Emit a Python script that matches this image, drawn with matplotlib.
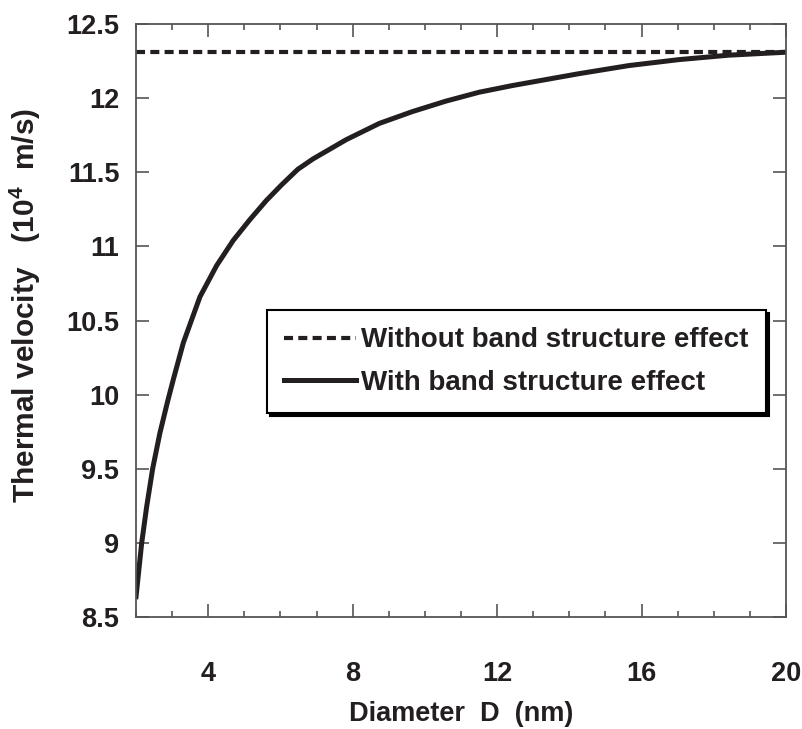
import numpy as np
import matplotlib.pyplot as plt

plt.rcParams['font.family'] = ['Liberation Sans', 'DejaVu Sans']
plt.rcParams['font.weight'] = 'bold'
plt.rcParams['axes.labelweight'] = 'bold'
plt.rcParams['mathtext.default'] = 'regular'
plt.rcParams['lines.scale_dashes'] = False

# values
diameter = [2.0, 2.157, 2.295, 2.46, 2.66, 2.87, 3.03, 3.31, 3.77, 4.23, 4.69, 5.15,
            5.61, 6.03, 6.48, 6.90, 7.82, 8.74, 9.66, 10.58, 11.50, 12.42, 13.11,
            14.26, 15.65, 17.03, 18.41, 20.0]
v_band = [8.637, 9.0, 9.245, 9.50, 9.74, 9.95, 10.10, 10.35, 10.66, 10.87, 11.04, 11.18,
          11.31, 11.415, 11.52, 11.59, 11.72, 11.83, 11.91, 11.98, 12.04, 12.085, 12.115,
          12.165, 12.22, 12.26, 12.29, 12.31]
v_noband = 12.31

xticks = [4, 8, 12, 16, 20]
yticks = [8.5, 9, 9.5, 10, 10.5, 11, 11.5, 12, 12.5]
ytick_labels = ['8.5', '9', '9.5', '10', '10.5', '11', '11.5', '12', '12.5']

fig = plt.figure(figsize=(8.03, 7.29), dpi=100)
ax = fig.add_axes([0.1694, 0.1536, 0.8094, 0.8134])

ax.plot([2, 20], [v_noband, v_noband], color='#231f20', lw=3.0, dashes=(6.5, 3.8),
        label='Without band structure effect', solid_capstyle='butt')
ax.plot(diameter, v_band, color='#231f20', lw=3.6, label='With band structure effect',
        solid_joinstyle='round')

ax.set_xlim(2, 20)
ax.set_ylim(8.5, 12.5)
ax.set_xticks(xticks)
ax.set_xticks(np.arange(2, 21, 1), minor=True)
ax.set_yticks(yticks)
ax.set_yticklabels(ytick_labels)

ax.tick_params(which='both', direction='in', top=True, right=True, color='#555555',
               width=1.2, labelsize=19.5, labelcolor='#231f20')
ax.tick_params(which='major', length=9.5)
ax.tick_params(which='minor', length=4.5)
ax.tick_params(axis='x', pad=32)
ax.tick_params(axis='y', pad=12)
for s in ax.spines.values():
    s.set_color('#555555')
    s.set_linewidth(1.3)

ax.set_xlabel('Diameter  D  (nm)', fontsize=19.5, color='#231f20', labelpad=10)
ax.set_ylabel('Thermal velocity   (10$^{4}$  m/s)', fontsize=21.5, color='#231f20')
ax.yaxis.set_label_coords(-0.143, 0.525)

leg = ax.legend(loc='upper left', bbox_to_anchor=(0.2015, 0.5177), borderaxespad=0,
                fontsize=20, fancybox=False, edgecolor='black', framealpha=1,
                handlelength=2.6, handletextpad=0.18, labelspacing=0.6, borderpad=0.62,
                shadow={'color': 'black', 'alpha': 1})
leg.get_frame().set_linewidth(1.5)
for t in leg.get_texts():
    t.set_color('#231f20')

fig.savefig('out.png', dpi=100)
